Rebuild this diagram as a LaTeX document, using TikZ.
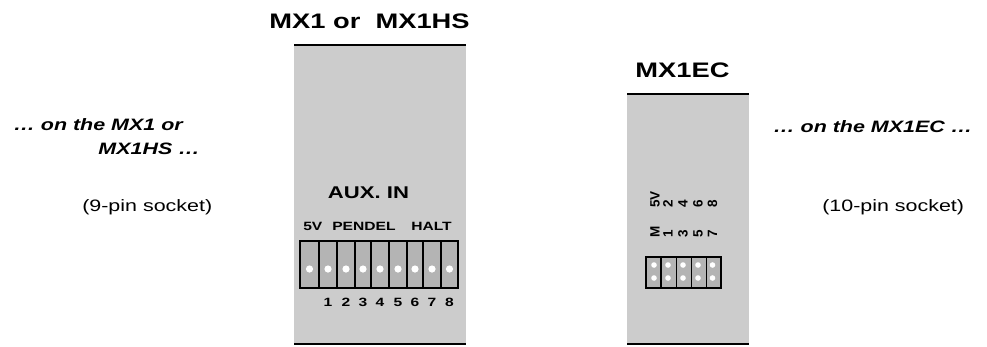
\documentclass[tikz,border=0pt]{standalone}
\usepackage{fontspec}
\setmainfont{Liberation Sans}
\definecolor{panelgray}{HTML}{CCCCCC}
\definecolor{pingray}{HTML}{B4B4B4}

\begin{document}
\begin{tikzpicture}[x=1pt, y=-1pt,
    txt/.style={inner sep=0pt, xscale=1.3, anchor=base},
    title/.style={txt, font=\fontsize{21}{25}\selectfont\bfseries},
    note/.style={txt, font=\fontsize{16.5}{20}\selectfont\bfseries\itshape},
    plain/.style={txt, font=\fontsize{16.5}{20}\selectfont},
    small/.style={txt, font=\fontsize{12}{14}\selectfont\bfseries},
    vlabel/.style={inner sep=0pt, rotate=90, anchor=west, font=\fontsize{13.5}{15}\selectfont\bfseries}]
    \useasboundingbox (0,0) rectangle (987,346);

    % panels
    \fill[panelgray] (294,46) rectangle (466,344);
    \fill[panelgray] (627,95) rectangle (749,344);
    \draw[line width=2pt] (294,45) -- (466,45);
    \draw[line width=2pt] (627,94) -- (749,94);
    \draw[line width=1.5pt] (294,344) -- (466,344);
    \draw[line width=1.5pt] (627,344) -- (749,344);

    \node (MXone) [title] at (369.5,28) {MX1 or \ MX1HS};
    \node (MXec) [title] at (682.5,77) {MX1EC};

    \node (onA) [note, anchor=base east] at (183,130) {… on the MX1 or};
    \node (onB) [note, anchor=base east] at (200,154) {MX1HS …};
    \node (onC) [note, anchor=base west] at (773,132) {… on the MX1EC …};
    \node (sockA) [plain, anchor=base west] at (82,211) {(9-pin socket)};
    \node (sockB) [plain, anchor=base west] at (822,211) {(10-pin socket)};

    % 9-pin socket
    \node (aux) [txt, font=\fontsize{17}{20}\selectfont\bfseries] at (368.5,198) {AUX. IN};
    \node (fiveV) [small, anchor=base west] at (303,230) {5V};
    \node (pendel) [small, anchor=base west] at (332,230) {PENDEL};
    \node (halt) [small, anchor=base west] at (411,230) {HALT};
    \fill[pingray] (300,241) rectangle (458,288);
    \foreach \x in {319,337,355,371,389,407,423,441}
      \draw[line width=1.5pt] (\x,241) -- (\x,288);
    \draw[line width=2.5pt] (300,241) rectangle (458,288);
    \fill[white] (309.5,269) circle (3.6pt);
    \foreach \x [count=\n] in {328,346,363,380,398,415,432,449.5} {
      \fill[white] (\x,269) circle (3.6pt);
      \node (pin\n) [small] at (\x,306) {\n};
    }

    % 10-pin socket
    \node (lblM) [vlabel] at (655,238) {M};
    \node (lblV) [vlabel] at (655,208) {5V};
    \foreach \x/\a/\b in {668/1/2, 683/3/4, 698/5/6, 712.5/7/8} {
      \node (lbl\a) [vlabel] at (\x,238) {\a};
      \node (lbl\b) [vlabel] at (\x,208) {\b};
    }
    \fill[pingray] (646,257) rectangle (721,288);
    \foreach \x in {676,691,706}
      \draw[line width=1pt] (\x,257) -- (\x,288);
    \draw[line width=1.8pt] (661,257) -- (661,288);
    \draw[line width=2pt] (646,257) rectangle (721,288);
    \foreach \x in {654,668,683,698,712.5} {
      \fill[white] (\x,265) circle (2.8pt);
      \fill[white] (\x,278) circle (2.8pt);
    }
\end{tikzpicture}
\end{document}
